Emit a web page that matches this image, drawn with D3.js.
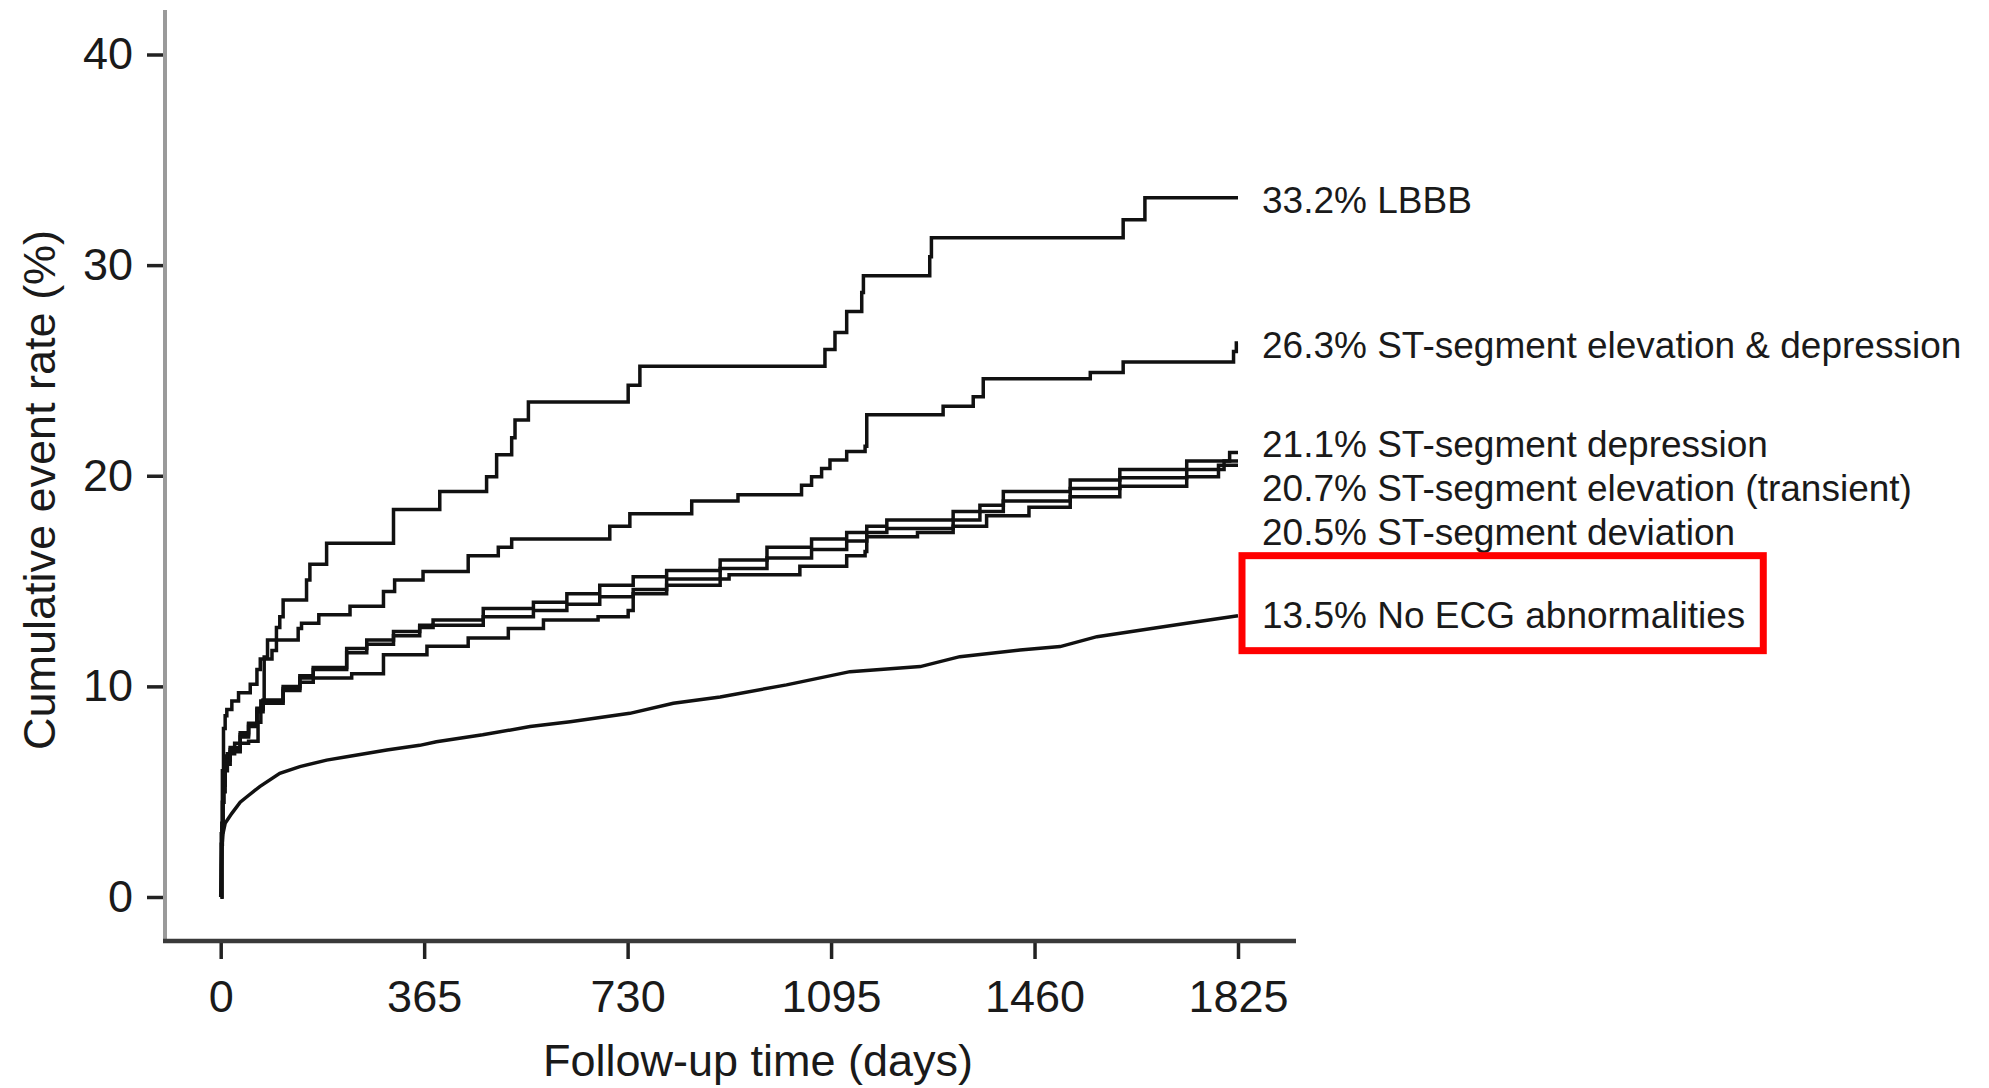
<!DOCTYPE html>
<html>
<head>
<meta charset="utf-8">
<script src="https://cdn.jsdelivr.net/npm/d3@7"></script>
<style>
  body { margin: 0; background: white; }
  text { font-family: "Liberation Sans", Arial, sans-serif; fill: #1a1a1a; }
</style>
</head>
<body>
<div id="container"></div>
<script>
let w = 1989;
let h = 1088;

// values: [day, cumulative event rate %]
let seriesNames = [
  "LBBB",
  "ST-segment elevation & depression",
  "ST-segment depression",
  "ST-segment elevation (transient)",
  "ST-segment deviation",
  "No ECG abnormalities"
];
let finalRates = [33.2, 26.3, 21.1, 20.7, 20.5, 13.5];

let lbbb = [[0,0],[1,3],[3,6],[5,8],[8,8.6],[11,8.9],[20,9.3],[32,9.7],[53,10.1],[65,10.8],[71,11.3],[92,11.7],[100,12.8],[106,13.3],[112,14.1],[154,15.05],[160,15.8],[190,16.8],[310,18.4],[393,19.25],[477,19.95],[495,21.0],[522,21.8],[528,22.65],[552,23.5],[731,24.3],[752,25.2],[1084,26.0],[1102,26.8],[1123,27.8],[1150,28.7],[1153,29.5],[1272,30.4],[1275,31.3],[1619,32.15],[1658,33.2],[1825,33.2]];

let stElevDep = [[0,0],[1,2.5],[3,4.5],[6,6],[12,6.8],[25,7.3],[50,7.4],[67,8.3],[72,9.3],[78,11.4],[84,12.2],[139,12.75],[145,13.0],[176,13.4],[232,13.8],[292,14.5],[312,15.05],[363,15.45],[444,16.2],[498,16.6],[522,17.0],[698,17.6],[734,18.2],[845,18.8],[928,19.1],[1042,19.55],[1060,19.95],[1078,20.35],[1093,20.75],[1123,21.15],[1156,21.4],[1159,22.9],[1296,23.3],[1350,23.75],[1368,24.6],[1560,24.9],[1619,25.4],[1817,25.9],[1822,26.3],[1825,26.3]];

let stDep = [[0,0],[2,3.5],[4,5.5],[8,6.7],[17,7.1],[35,7.8],[50,8.25],[65,8.96],[76,9.35],[112,10.0],[142,10.5],[166,10.9],[226,11.8],[262,12.2],[310,12.6],[357,12.9],[381,13.15],[471,13.7],[561,14.0],[621,14.4],[680,14.8],[740,15.2],[800,15.5],[896,16.0],[980,16.6],[1060,17.0],[1123,17.3],[1159,17.6],[1195,17.9],[1314,18.3],[1362,18.6],[1404,19.25],[1524,19.8],[1613,20.3],[1733,20.7],[1810,21.1],[1825,21.1]];

let stElevTrans = [[0,0],[2,3.3],[4,5.3],[8,6.5],[17,7.0],[35,7.7],[50,8.2],[65,8.9],[76,9.3],[112,9.9],[142,10.4],[166,10.8],[226,11.6],[262,12.0],[310,12.4],[357,12.8],[381,12.9],[471,13.3],[561,13.6],[621,13.9],[680,14.25],[740,14.6],[800,15.1],[896,15.6],[980,16.1],[1060,16.5],[1123,16.9],[1159,17.3],[1195,17.5],[1314,17.9],[1362,18.3],[1404,18.8],[1524,19.4],[1613,19.9],[1733,20.3],[1800,20.7],[1825,20.7]];

let stDev = [[0,0],[2,3.1],[4,5.0],[8,6.3],[17,6.9],[35,7.6],[50,8.1],[65,8.8],[76,9.2],[112,9.8],[142,10.2],[166,10.4],[235,10.6],[292,11.5],[370,11.9],[444,12.3],[516,12.75],[579,13.15],[677,13.3],[731,13.6],[740,14.4],[800,14.8],[896,15.1],[912,15.3],[1039,15.7],[1123,16.2],[1156,16.4],[1159,17.1],[1250,17.3],[1314,17.6],[1374,18.1],[1450,18.5],[1524,19.0],[1613,19.5],[1733,19.95],[1790,20.5],[1825,20.5]];

let noEcg = [[0,0],[1,1.5],[2,2.3],[4,3.0],[8,3.5],[20,3.97],[35,4.5],[47,4.76],[70,5.24],[106,5.87],[142,6.19],[190,6.5],[226,6.66],[298,6.98],[357,7.2],[387,7.37],[470,7.7],[555,8.09],[627,8.32],[734,8.72],[812,9.2],[896,9.5],[1015,10.07],[1129,10.7],[1255,10.94],[1326,11.41],[1434,11.73],[1506,11.89],[1572,12.36],[1673,12.76],[1733,13.0],[1825,13.35]];

let xTicks = [0, 365, 730, 1095, 1460, 1825];
let yTicks = [0, 10, 20, 30, 40];

let curves = [lbbb, stElevDep, stDep, stElevTrans, stDev, noEcg];

let viz = d3.select("#container")
  .append("svg")
    .attr("width", w)
    .attr("height", h)
    .style("background-color", "white")
;

let x = d3.scaleLinear().domain([0, 1825]).range([220.7, 1238]);
let y = d3.scaleLinear().domain([0, 40]).range([897, 54.5]);

// axes
viz.append("g")
    .attr("transform", "translate(165,0)")
    .call(d3.axisLeft(y).tickValues(yTicks).tickFormat(d3.format("d")).tickSize(18).tickPadding(14))
;
viz.append("g")
    .attr("transform", "translate(0,941)")
    .call(d3.axisBottom(x).tickValues(xTicks).tickFormat(d3.format("d")).tickSize(18).tickPadding(21))
;
viz.selectAll(".domain").remove();
viz.selectAll(".tick line").style("stroke", "#222").style("stroke-width", 3.5);
viz.selectAll(".tick text")
    .style("font-size", "45px")
    .style("font-family", "Liberation Sans, Arial, sans-serif")
    .attr("fill", "#1a1a1a")
;

viz.append("line")
    .attr("x1", 165).attr("y1", 10)
    .attr("x2", 165).attr("y2", 943)
    .style("stroke", "#9a9a9a")
    .style("stroke-width", 4)
;
viz.append("line")
    .attr("x1", 163).attr("y1", 941)
    .attr("x2", 1296).attr("y2", 941)
    .style("stroke", "#3a3a3a")
    .style("stroke-width", 4.5)
;

// axis titles
viz.append("text")
    .text("Cumulative event rate (%)")
    .attr("transform", "translate(55,490) rotate(-90)")
    .attr("text-anchor", "middle")
    .style("font-size", "45px")
;
viz.append("text")
    .text("Follow-up time (days)")
    .attr("x", 758)
    .attr("y", 1076)
    .attr("text-anchor", "middle")
    .style("font-size", "45px")
;

// curves
curves.forEach(function(pts, i){
  let line = d3.line()
      .x(d => x(d[0]))
      .y(d => y(d[1]))
      .curve(i == 5 ? d3.curveLinear : d3.curveStepAfter);

  viz.append("path")
      .attr("d", line(pts))
      .attr("fill", "none")
      .style("stroke", "#111")
      .style("stroke-width", 3.5)
  ;
});

// end labels: push down where they overlap, then back up above the boxed one
let gaps = finalRates.map((r, i) => i == finalRates.length - 1 ? 83 : 44);
let centers = [];
let prev = -Infinity;
finalRates.forEach(function(r, i){
  let c = Math.max(y(r) + 2, prev + 44);
  centers.push(c);
  prev = c;
});
for (let i = centers.length - 2; i >= 0; i--) {
  centers[i] = Math.min(centers[i], centers[i + 1] - gaps[i + 1]);
}

let labelNodes = finalRates.map(function(r, i){
  return viz.append("text")
      .text(r + "% " + seriesNames[i])
      .attr("x", x(1825) + 24)
      .attr("y", centers[i] + 13)
      .style("font-size", "37px")
  ;
});

// red box round the last label
let bb = labelNodes[5].node().getBBox();
viz.append("rect")
    .attr("x", bb.x - 20)
    .attr("y", bb.y - 39)
    .attr("width", bb.width + 38)
    .attr("height", bb.height + 54)
    .attr("fill", "none")
    .style("stroke", "#ff0000")
    .style("stroke-width", 7)
;
</script>
</body>
</html>
